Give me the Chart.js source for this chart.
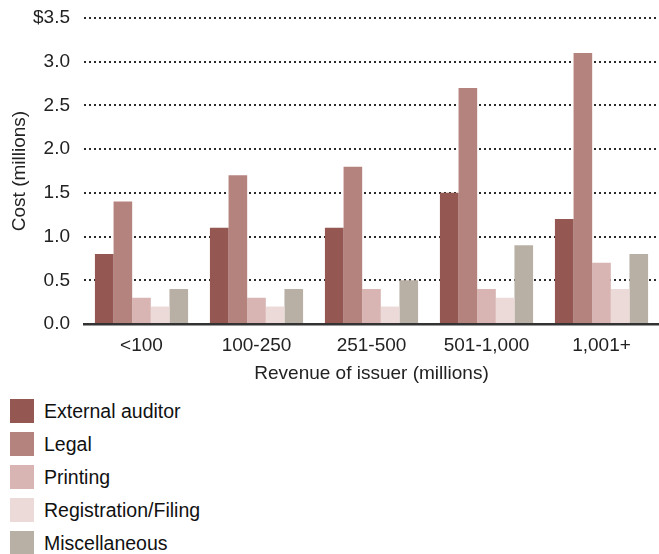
<!DOCTYPE html>
<html>
<head>
<meta charset="utf-8">
<script src="https://cdn.jsdelivr.net/npm/chart.js@4/dist/chart.umd.min.js"></script>
<style>
  html, body { margin: 0; padding: 0; background: #fff; }
  body { width: 659px; height: 554px; position: relative; overflow: hidden;
         font-family: "Liberation Sans", Arial, Helvetica, sans-serif; }
  #wrap { position: absolute; left: 0; top: 0; width: 659px; height: 393px; }
  #legend { position: absolute; left: 10px; top: 399px; margin: 0; padding: 0; list-style: none; }
  #legend li { height: 33px; display: flex; align-items: flex-start; color: #111; font-size: 19.5px; }
  #legend .box { width: 24px; height: 24px; margin-right: 10px; flex: none; }
  #legend .txt { line-height: 24px; }
</style>
</head>
<body>
<div id="wrap"><canvas id="chart"></canvas></div>
<ul id="legend"></ul>
<script>
// Revenue bands of the issuer (millions)
const categories = ['<100', '100-250', '251-500', '501-1,000', '1,001+'];

// Cost per category, in millions of dollars
const externalAuditor = [0.8, 1.1, 1.1, 1.5, 1.2];
const legal           = [1.4, 1.7, 1.8, 2.7, 3.1];
const printing        = [0.3, 0.3, 0.4, 0.4, 0.7];
const registration    = [0.2, 0.2, 0.2, 0.3, 0.4];
const miscellaneous   = [0.4, 0.4, 0.5, 0.9, 0.8];

const seriesNames = ['External auditor', 'Legal', 'Printing', 'Registration/Filing', 'Miscellaneous'];
const seriesData = [externalAuditor, legal, printing, registration, miscellaneous];
const seriesColors = ['#955752', '#b5837e', '#d8b5b3', '#ecdad8', '#b9b0a5'];

const tickFont = { family: '"Liberation Sans", Arial, sans-serif', size: 19 };

const chart = new Chart(document.getElementById('chart'), {
  type: 'bar',
  data: {
    labels: categories,
    datasets: seriesNames.map((name, i) => ({
      label: name,
      data: seriesData[i],
      backgroundColor: seriesColors[i],
      borderWidth: 0,
      barPercentage: 1.0,
      categoryPercentage: 0.81
    }))
  },
  options: {
    responsive: true,
    maintainAspectRatio: false,
    animation: false,
    layout: { padding: { top: 18, right: 0, bottom: 0, left: 0 } },
    plugins: {
      legend: { display: false },
      tooltip: { enabled: false }
    },
    scales: {
      x: {
        afterFit: (scale) => { scale.height = 69; scale.paddingLeft = 0; scale.paddingRight = 0; },
        grid: { display: false, drawTicks: false },
        border: { display: true, color: '#333', width: 2.5 },
        ticks: { color: '#222', font: tickFont, padding: 10 },
        title: { display: true, text: 'Revenue of issuer (millions)', color: '#222', font: tickFont, padding: { top: 0, bottom: 8 } }
      },
      y: {
        min: 0,
        max: 3.5,
        afterFit: (scale) => { scale.width = 84; scale.paddingTop = 0; scale.paddingBottom = 0; },
        grid: { color: '#2a2a2a', lineWidth: 2, drawTicks: false },
        border: { display: false, dash: [2, 3] },
        ticks: {
          stepSize: 0.5,
          color: '#222',
          font: tickFont,
          padding: 14,
          callback: (v) => (v === 3.5 ? '$' : '') + Number(v).toFixed(1)
        },
        title: { display: true, text: 'Cost (millions)', color: '#222', font: tickFont, padding: { top: 8, bottom: 0 } }
      }
    }
  }
});

// Vertical legend built from the chart's datasets
const legendEl = document.getElementById('legend');
chart.data.datasets.forEach(ds => {
  const li = document.createElement('li');
  const box = document.createElement('span');
  box.className = 'box';
  box.style.background = ds.backgroundColor;
  const txt = document.createElement('span');
  txt.className = 'txt';
  txt.textContent = ds.label;
  li.appendChild(box);
  li.appendChild(txt);
  legendEl.appendChild(li);
});
</script>
</body>
</html>
